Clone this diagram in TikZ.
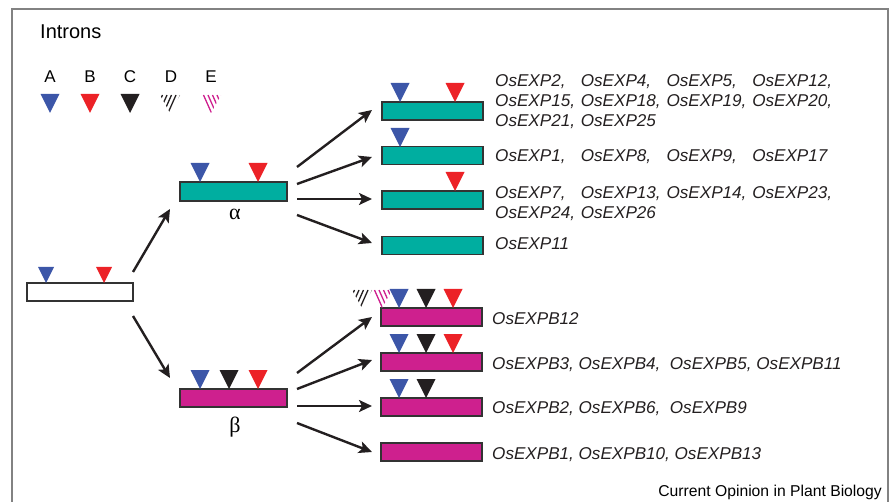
\documentclass[tikz,border=0pt]{standalone}
\usepackage{fontspec}
\setmainfont{Liberation Sans}
\newfontfamily\grkfont{Liberation Serif}
\usetikzlibrary{arrows.meta}
\definecolor{tealbox}{RGB}{0,174,160}
\definecolor{magbox}{RGB}{206,32,142}
\definecolor{triblue}{RGB}{60,86,168}
\definecolor{trired}{RGB}{236,34,39}
\definecolor{triblack}{RGB}{35,31,32}
\definecolor{framegray}{RGB}{130,130,130}
\definecolor{txtgray}{RGB}{35,31,32}
\newcommand\gtri[4]{\fill[#4] (#1-#3/2,#2-#3) -- (#1+#3/2,#2-#3) -- (#1,#2) -- cycle;}
\newcommand\htri[5]{%
  \begin{scope}
    \clip (#1-10,#2-18) -- (#1+10,#2-18) -- (#1,#2) -- cycle;
    \foreach \k in {-21,-16.5,...,27} \draw[#3, line width=1.3pt] (#1+\k,#2-18) -- ++(#4*8,18);
  \end{scope}}
\newcommand\gcol[1]{\makebox[85.7pt][l]{#1}}
\begin{document}
\begin{tikzpicture}[x=1pt,y=-1pt,
  genebox/.style={draw=black!80, line width=1.4pt, minimum width=101pt, minimum height=18pt, inner sep=0pt},
  genetext/.style={anchor=base west, inner sep=0pt, text=txtgray, font=\fontsize{17.1}{20}\selectfont\itshape},
  legtext/.style={anchor=base, inner sep=0pt, font=\fontsize{17}{20}\selectfont},
  grk/.style={anchor=base, inner sep=0pt, font=\fontsize{22}{24}\selectfont\grkfont},
  arr/.style={line width=2.4pt, draw=txtgray, -{Stealth[length=13pt,width=12pt,inset=3pt]}}]
\useasboundingbox (0,0) rectangle (896,502);
\draw[framegray, line width=1.6pt] (12,502) -- (12,9) -- (888,9) -- (888,502);

% legend
\node[anchor=base west, inner sep=0pt, font=\fontsize{20}{22}\selectfont] (introns) at (40,39) {Introns};
\node[legtext] (lA) at (50,83) {A};
\node[legtext] (lB) at (90,83) {B};
\node[legtext] (lC) at (130,83) {C};
\node[legtext] (lD) at (171,83) {D};
\node[legtext] (lE) at (211,83) {E};
\gtri{50}{113}{19}{triblue}
\gtri{90}{113}{19}{trired}
\gtri{130}{113}{19}{triblack}
\htri{170}{113}{triblack}{-1}{}
\htri{211}{113}{magbox}{1}{}

% boxes
\node[genebox, fill=white, minimum width=106pt] (root) at (80,292) {};
\node[genebox, fill=tealbox, minimum width=107pt, minimum height=19pt] (alpha) at (233.5,191.5) {};
\node[genebox, fill=magbox, minimum width=107pt] (beta) at (233.5,398) {};
\node[grk] (alab) at (235,220) {α};
\node[grk] (blab) at (235,432) {β};

\node[genebox, fill=tealbox] (a1) at (432.5,111) {};
\node[genebox, fill=tealbox] (a2) at (432.5,155.5) {};
\node[genebox, fill=tealbox] (a3) at (432.5,200) {};
\node[genebox, fill=tealbox] (a4) at (432.5,245.5) {};
\node[genebox, fill=magbox] (b1) at (431.5,317) {};
\node[genebox, fill=magbox] (b2) at (431.5,362) {};
\node[genebox, fill=magbox] (b3) at (431.5,407) {};
\node[genebox, fill=magbox] (b4) at (431.5,452) {};

% triangles
\gtri{46}{283}{16}{triblue}
\gtri{104}{283}{16}{trired}
\gtri{200}{182}{19}{triblue}
\gtri{258}{182}{19}{trired}
\gtri{200}{389}{19}{triblue}
\gtri{229}{389}{19}{triblack}
\gtri{258}{389}{19}{trired}
\gtri{400}{102}{19}{triblue}
\gtri{455}{102}{19}{trired}
\gtri{400}{147}{19}{triblue}
\gtri{455}{191}{19}{trired}
\htri{362}{308}{triblack}{-1}{}
\htri{382}{308}{magbox}{1}{}
\gtri{399}{308}{19}{triblue}
\gtri{426}{308}{19}{triblack}
\gtri{453}{308}{19}{trired}
\gtri{399}{353}{19}{triblue}
\gtri{426}{353}{19}{triblack}
\gtri{453}{353}{19}{trired}
\gtri{399}{398}{19}{triblue}
\gtri{426}{398}{19}{triblack}

% arrows
\coordinate (rA) at (133,272); \coordinate (tA) at (170,209);
\coordinate (rB) at (133,316); \coordinate (tB) at (170,378);
\draw[arr] (rA) -- (tA);
\draw[arr] (rB) -- (tB);
\coordinate (sa1) at (297,167); \coordinate (ea1) at (372,110);
\coordinate (sa2) at (297,184); \coordinate (ea2) at (372,157);
\coordinate (sa3) at (297,199); \coordinate (ea3) at (372,199);
\coordinate (sa4) at (297,215); \coordinate (ea4) at (372,243);
\coordinate (sb1) at (297,373); \coordinate (eb1) at (372,317);
\coordinate (sb2) at (297,389); \coordinate (eb2) at (372,360);
\coordinate (sb3) at (297,406); \coordinate (eb3) at (372,406);
\coordinate (sb4) at (297,423); \coordinate (eb4) at (372,452);
\foreach \p in {a1,a2,a3,a4,b1,b2,b3,b4} \draw[arr] (s\p) -- (e\p);

% gene names
\node[genetext] (ta1a) at (495,87) {\gcol{OsEXP2,}\gcol{OsEXP4,}\gcol{OsEXP5,}OsEXP12,};
\node[genetext] (ta1b) at (495,107) {\gcol{OsEXP15,}\gcol{OsEXP18,}\gcol{OsEXP19,}OsEXP20,};
\node[genetext] (ta1c) at (495,127) {\gcol{OsEXP21,}OsEXP25};
\node[genetext] (ta2) at (495,162) {\gcol{OsEXP1,}\gcol{OsEXP8,}\gcol{OsEXP9,}OsEXP17};
\node[genetext] (ta3a) at (495,199) {\gcol{OsEXP7,}\gcol{OsEXP13,}\gcol{OsEXP14,}OsEXP23,};
\node[genetext] (ta3b) at (495,219) {\gcol{OsEXP24,}OsEXP26};
\node[genetext] (ta4) at (495,250) {OsEXP11};
\node[genetext] (tb1) at (492,324) {OsEXPB12};
\node[genetext] (tb2) at (492,369) {OsEXPB3, OsEXPB4,\ \ OsEXPB5, OsEXPB11};
\node[genetext] (tb3) at (492,413) {OsEXPB2, OsEXPB6,\ \ OsEXPB9};
\node[genetext] (tb4) at (492,459) {OsEXPB1, OsEXPB10, OsEXPB13};

\node[anchor=base east, inner sep=0pt, font=\fontsize{15.7}{17}\selectfont] (credit) at (882,496) {Current Opinion in Plant Biology};
\end{tikzpicture}
\end{document}
